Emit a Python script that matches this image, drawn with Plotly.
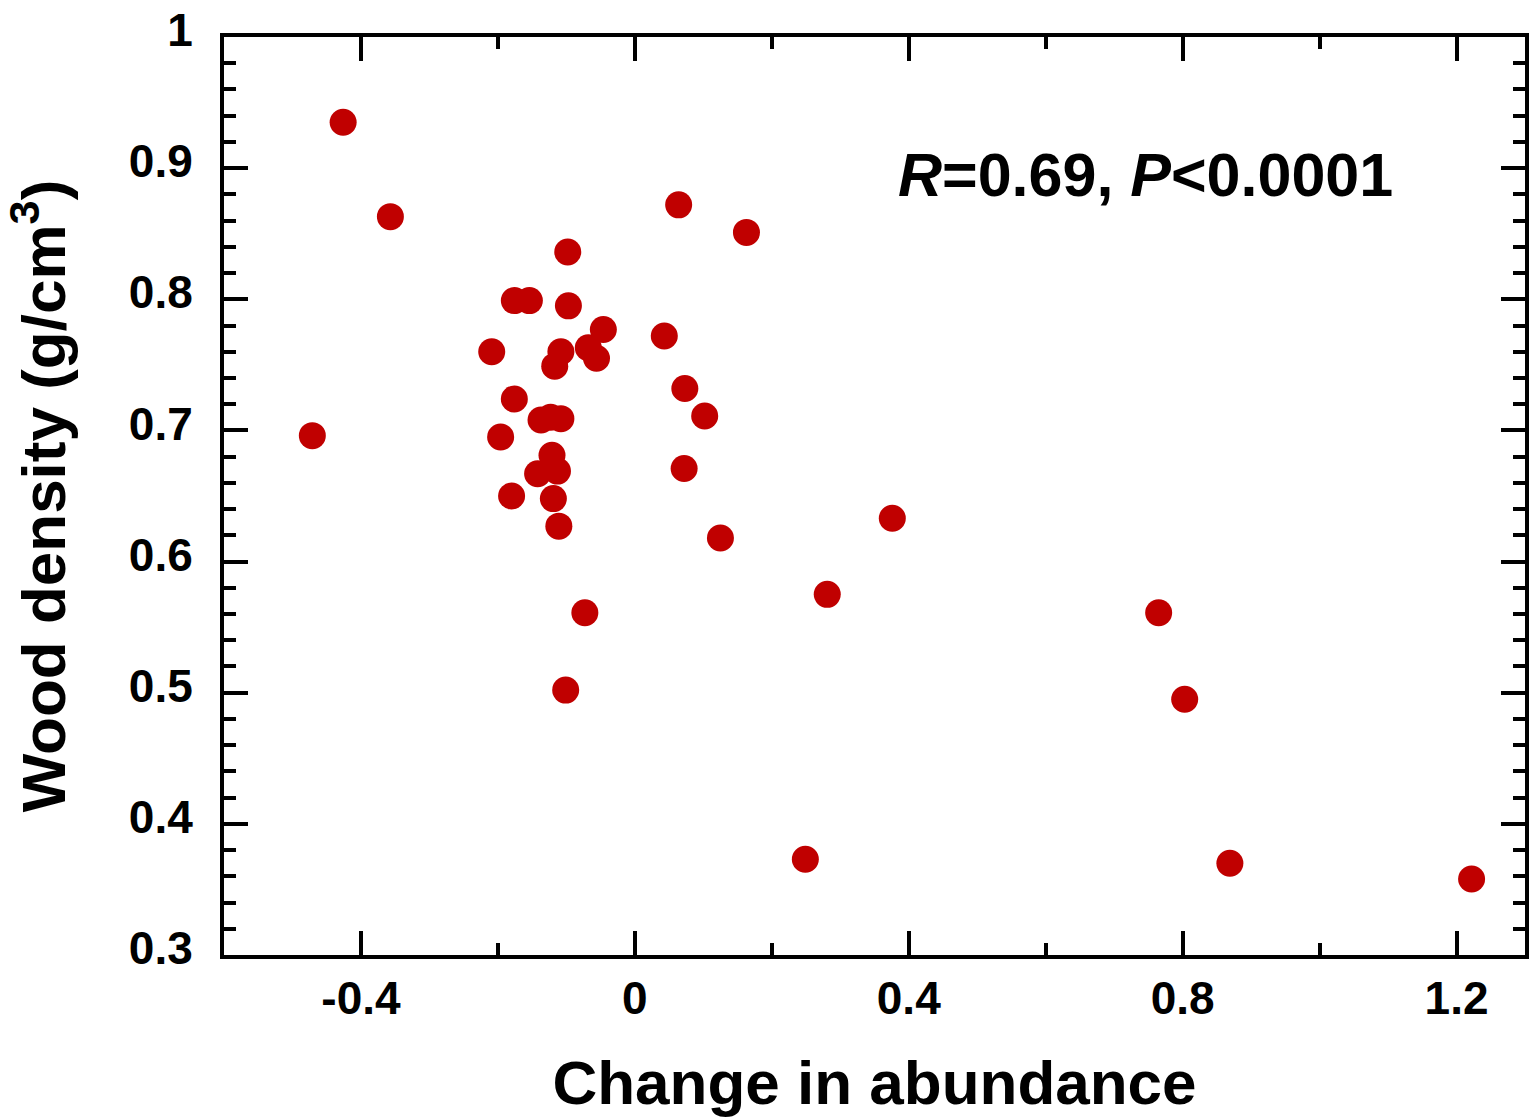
import plotly.graph_objects as go

# Data
change_in_abundance = [
    -0.426, -0.357, -0.471, 0.064, 0.163, -0.098, -0.176, -0.154, -0.097, -0.046,
    0.043, -0.209, -0.108, -0.068, -0.056, -0.117, 0.073, -0.176, 0.102, -0.137,
    -0.123, -0.108, -0.196, -0.121, -0.142, -0.113, 0.072, -0.180, -0.119, -0.111,
    0.125, 0.376, 0.281, -0.073, -0.101, 0.765, 0.803, 0.249, 0.869, 1.222,
]
wood_density = [
    0.935, 0.863, 0.696, 0.872, 0.851, 0.836, 0.799, 0.799, 0.795, 0.777,
    0.772, 0.760, 0.760, 0.763, 0.755, 0.749, 0.732, 0.724, 0.711, 0.708,
    0.710, 0.709, 0.695, 0.681, 0.667, 0.669, 0.671, 0.650, 0.648, 0.627,
    0.618, 0.633, 0.575, 0.561, 0.502, 0.561, 0.495, 0.373, 0.370, 0.358,
]
x_tickvals = [-0.4, 0, 0.4, 0.8, 1.2]
x_ticktext = ["-0.4", "0", "0.4", "0.8", "1.2"]
y_tickvals = [0.3, 0.4, 0.5, 0.6, 0.7, 0.8, 0.9, 1.0]
y_ticktext = ["0.3", "0.4", "0.5", "0.6", "0.7", "0.8", "0.9", "1"]

FONT = "Liberation Sans, Arial, sans-serif"

fig = go.Figure()
fig.add_trace(go.Scatter(
    x=change_in_abundance, y=wood_density, mode="markers",
    marker=dict(size=27, color="#C00000", line=dict(width=0)),
    showlegend=False,
))

axis_common = dict(
    showline=True, linewidth=4, linecolor="black", mirror="ticks",
    ticks="inside", ticklen=24, tickwidth=4, tickcolor="black",
    showgrid=False, zeroline=False,
    tickfont=dict(family=FONT, size=46, color="black", weight="bold"),
)

fig.update_xaxes(
    **axis_common,
    range=[-0.6, 1.3],
    tickmode="array", tickvals=x_tickvals, ticktext=x_ticktext,
    minor=dict(tick0=0, dtick=0.2, ticks="inside", ticklen=12, tickwidth=4, tickcolor="black"),
    title=dict(text="Change in abundance", font=dict(family=FONT, size=62, color="black", weight="bold"), standoff=38),
)
fig.update_yaxes(
    **axis_common,
    range=[0.3, 1.0],
    tickmode="array", tickvals=y_tickvals, ticktext=y_ticktext,
    ticklabelshift=-7, ticklabelstandoff=18,
    minor=dict(tick0=0.3, dtick=0.02, ticks="inside", ticklen=12, tickwidth=4, tickcolor="black"),
    title=dict(text="Wood density (g/cm<sup>3</sup>)", font=dict(family=FONT, size=62, color="black", weight="bold"), standoff=46),
)

fig.add_annotation(
    x=0.746, y=0.895, xref="x", yref="y",
    text="<i>R</i>=0.69, <i>P</i>&lt;0.0001",
    showarrow=False, xanchor="center", yanchor="middle",
    font=dict(family=FONT, size=61, color="black", weight="bold"),
)

fig.update_layout(
    width=1529, height=1117,
    margin=dict(l=224, r=0, t=37, b=162, pad=0),
    paper_bgcolor="white", plot_bgcolor="white",
)

fig.write_html("out.html")
